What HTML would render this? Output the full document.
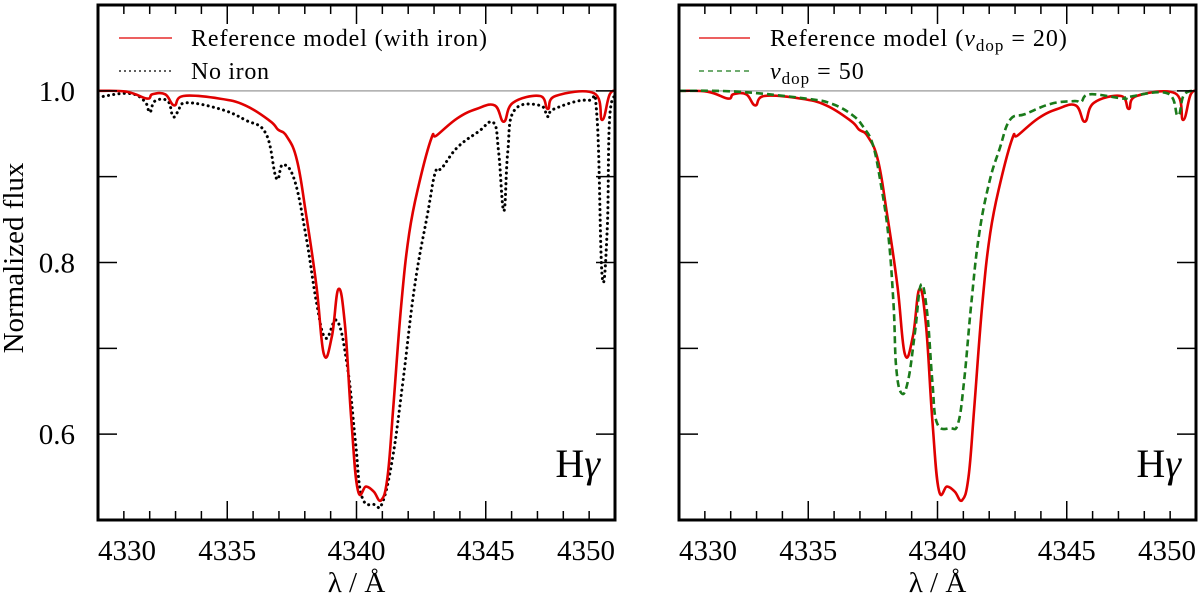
<!DOCTYPE html>
<html><head><meta charset="utf-8"><style>
body{margin:0;background:#fff}
svg{display:block}
svg text{font-family:"Liberation Serif","DejaVu Serif",serif}
</style></head><body>
<svg id="chart" width="1200" height="598" viewBox="0 0 1200 598" font-family="Liberation Serif, serif" xmlns="http://www.w3.org/2000/svg"></svg>
<script>
// wavelength (Å) / flux arrays
const redLam = [4330,4331.1,4331.9,4332.1,4332.6,4332.95,4333.3,4334.7,4335.7,4336.65,4336.96,4337.3,4337.7,4338.05,4338.45,4338.74,4339.05,4339.3,4339.55,4339.8,4340.05,4340.37,4340.67,4340.95,4341.2,4341.42,4341.73,4342.04,4342.43,4342.9,4343.1,4343.9,4344.65,4345.35,4345.7,4346.05,4347.1,4347.4,4347.7,4349.2,4349.5,4349.8,4350.1];
const redFlux = [1.0,0.999,0.991,0.996,0.996,0.983,0.994,0.991,0.983,0.965,0.955,0.947,0.919,0.856,0.773,0.693,0.714,0.769,0.728,0.617,0.535,0.539,0.533,0.523,0.55,0.63,0.75,0.834,0.893,0.945,0.948,0.968,0.979,0.983,0.964,0.986,0.994,0.979,0.994,0.997,0.966,0.996,1.0];
const noIronLam = [4330,4331.2,4331.8,4332.0,4332.2,4332.7,4332.9,4333.1,4333.4,4334.7,4335.7,4336.5,4336.9,4337.15,4337.6,4338.05,4338.45,4338.8,4339.25,4339.65,4339.95,4340.2,4340.7,4341.0,4341.4,4341.8,4342.25,4342.75,4343.05,4343.3,4343.9,4344.7,4345.3,4345.5,4345.7,4345.85,4346.1,4347.1,4347.4,4347.65,4348.95,4349.3,4349.5,4349.7,4349.8,4350.1];
const noIronFlux = [0.9925,0.997,0.988,0.975,0.988,0.988,0.970,0.976,0.986,0.979,0.966,0.950,0.898,0.914,0.896,0.83,0.754,0.712,0.732,0.678,0.594,0.528,0.518,0.520,0.573,0.662,0.773,0.857,0.905,0.910,0.934,0.952,0.963,0.928,0.860,0.928,0.977,0.983,0.970,0.979,0.989,0.971,0.785,0.838,0.971,0.995];
const vdopLam = [4330,4332.27,4334.9,4335.9,4336.7,4337.15,4337.5,4337.8,4338.1,4338.3,4338.4,4338.6,4338.86,4339.13,4339.36,4339.6,4339.8,4339.98,4340.5,4340.8,4341.03,4341.3,4341.6,4342.0,4342.4,4342.8,4343.4,4344.4,4345.3,4345.55,4345.9,4347.2,4347.4,4348.9,4349.3,4349.55,4350.1];
const vdopFlux = [1.0,0.999,0.991,0.985,0.972,0.957,0.937,0.893,0.831,0.75,0.679,0.648,0.662,0.719,0.774,0.741,0.662,0.613,0.607,0.613,0.662,0.75,0.831,0.893,0.932,0.966,0.973,0.985,0.988,0.987,0.996,0.991,0.993,0.997,0.971,0.996,1.0];
const xTicks = [4330,4335,4340,4345,4350];
const yTicks = [0.6,0.8,1.0];

const NS="http://www.w3.org/2000/svg";
const svg=document.getElementById('chart');
function mk(tag,attrs,parent){const e=document.createElementNS(NS,tag);for(const k in attrs)e.setAttribute(k,attrs[k]);(parent||svg).appendChild(e);return e;}
const W=517, TOP=5, BOT=520;
function yS(f){return BOT-(f-0.5)/0.6*(BOT-TOP);}
function makeX(x0){return l=>x0+(l-4330)/20*W;}
function smooth(P){
  let d='M'+P[0][0].toFixed(1)+','+P[0][1].toFixed(1);
  for(let i=0;i<P.length-1;i++){
    const p0=P[Math.max(i-1,0)],p1=P[i],p2=P[i+1],p3=P[Math.min(i+2,P.length-1)];
    const t=0.2;
    const c1=[p1[0]+(p2[0]-p0[0])*t,p1[1]+(p2[1]-p0[1])*t];
    const c2=[p2[0]-(p3[0]-p1[0])*t,p2[1]-(p3[1]-p1[1])*t];
    d+=' C'+c1.map(v=>v.toFixed(1)).join(',')+' '+c2.map(v=>v.toFixed(1)).join(',')+' '+p2[0].toFixed(1)+','+p2[1].toFixed(1);
  }
  return d;
}

function panel(x0,name,series,legend,showY){
  const g=mk('g',{});
  
  
  const xS=makeX(x0);
  const clip=mk('clipPath',{id:'c'+name},g);
  mk('rect',{x:x0,y:TOP,width:W,height:BOT-TOP},clip);
  const gl=mk('line',{x1:x0,x2:x0+W,y1:yS(1),y2:yS(1),stroke:'#aaa','stroke-width':1.5},g);
  
  
  series.forEach(s=>{
    const P=s.lam.map((l,i)=>[xS(l),yS(s.flux[i])]);
    const p=mk('path',{d:smooth(P),fill:'none',stroke:s.color,'stroke-width':s.w||2.6,'stroke-dasharray':s.dash||'none','stroke-linecap':s.cap||'butt','stroke-linejoin':'round','clip-path':'url(#c'+name+')'},g);
    
    
  });
  for(let l=4330;l<=4350;l++){
    const major=(l%5===0), len=major?19:9, x=xS(l);
    mk('line',{x1:x,x2:x,y1:BOT,y2:BOT-len,stroke:'#000','stroke-width':1.5},g);
    mk('line',{x1:x,x2:x,y1:TOP,y2:TOP+len,stroke:'#000','stroke-width':1.5},g);
  }
  for(let f=0.6;f<=1.05;f+=0.1){
    const y=yS(f);
    mk('line',{x1:x0,x2:x0+19,y1:y,y2:y,stroke:'#000','stroke-width':1.5},g);
    mk('line',{x1:x0+W-19,x2:x0+W,y1:y,y2:y,stroke:'#000','stroke-width':1.5},g);
  }
  const fr=mk('rect',{x:x0,y:TOP,width:W,height:BOT-TOP,fill:'none',stroke:'#000','stroke-width':3},g);
  
  
  xTicks.forEach((l,i)=>{
    let anchor='middle', x=xS(l);
    if(i===0){anchor='start';x=x0;} if(i===xTicks.length-1){anchor='end';x=x0+W;}
    const t=mk('text',{x:x,y:560,'font-size':29,'text-anchor':anchor},g);
    t.textContent=l;
    
    
  });
  if(showY){
    yTicks.forEach(f=>{
      const t=mk('text',{x:75,y:yS(f)+10,'font-size':29,'text-anchor':'end'},g);
      t.textContent=f.toFixed(1);
      
      
    });
  }
  const xl=mk('text',{x:x0+W/2,y:592,'font-size':29,'text-anchor':'middle'},g);
  xl.textContent='λ / Å';
  
  
  const hg=mk('text',{x:x0+W-15,y:477,'font-size':40,'text-anchor':'end'},g);
  hg.innerHTML='H<tspan font-style="italic">γ</tspan>';
  
  
  legend(g,x0);
}

panel(98,'left-panel',[
  {lam:noIronLam,flux:noIronFlux,color:'#000',dash:'0.1 5.2',cap:'round',w:3,name:'no-iron-line'},
  {lam:redLam,flux:redFlux,color:'#e00000',name:'reference-model-line'}
],(g,x0)=>{
  const e1=mk('g',{},g);
  
  
  mk('line',{x1:x0+21,x2:x0+74,y1:38,y2:38,stroke:'#e00000','stroke-width':1.2},e1);
  const t1=mk('text',{x:x0+93,y:46,'font-size':24,textLength:296,lengthAdjust:'spacing'},e1);
  t1.textContent='Reference model (with iron)';
  const e2=mk('g',{},g);
  
  
  mk('line',{x1:x0+21,x2:x0+74,y1:71,y2:71,stroke:'#000','stroke-width':1.2,'stroke-dasharray':'2 3'},e2);
  const t2=mk('text',{x:x0+93,y:79,'font-size':24,textLength:78,lengthAdjust:'spacing'},e2);
  t2.textContent='No iron';
},true);

panel(679,'right-panel',[
  {lam:redLam,flux:redFlux,color:'#e00000',name:'reference-model-line'},
  {lam:vdopLam,flux:vdopFlux,color:'#1a7a1a',dash:'7 4',name:'vdop-50-line'}
],(g,x0)=>{
  const e1=mk('g',{},g);
  
  
  mk('line',{x1:x0+20,x2:x0+71,y1:38,y2:38,stroke:'#e00000','stroke-width':1.2},e1);
  const t1=mk('text',{x:x0+91,y:46,'font-size':24,'letter-spacing':1},e1);
  t1.innerHTML='Reference model (<tspan font-style="italic">v</tspan><tspan font-size="17" dy="5">dop</tspan><tspan dy="-5"> = 20)</tspan>';
  const e2=mk('g',{},g);
  
  
  mk('line',{x1:x0+20,x2:x0+71,y1:71,y2:71,stroke:'#1a7a1a','stroke-width':1.2,'stroke-dasharray':'5 4'},e2);
  const t2=mk('text',{x:x0+91,y:79,'font-size':24,'letter-spacing':1},e2);
  t2.innerHTML='<tspan font-style="italic">v</tspan><tspan font-size="17" dy="5">dop</tspan><tspan dy="-5"> = 50</tspan>';
},false);

const yl=mk('text',{x:0,y:0,'font-size':29,'text-anchor':'middle',transform:'translate(23,258) rotate(-90)'});
yl.textContent='Normalized flux';


</script>
</body></html>
